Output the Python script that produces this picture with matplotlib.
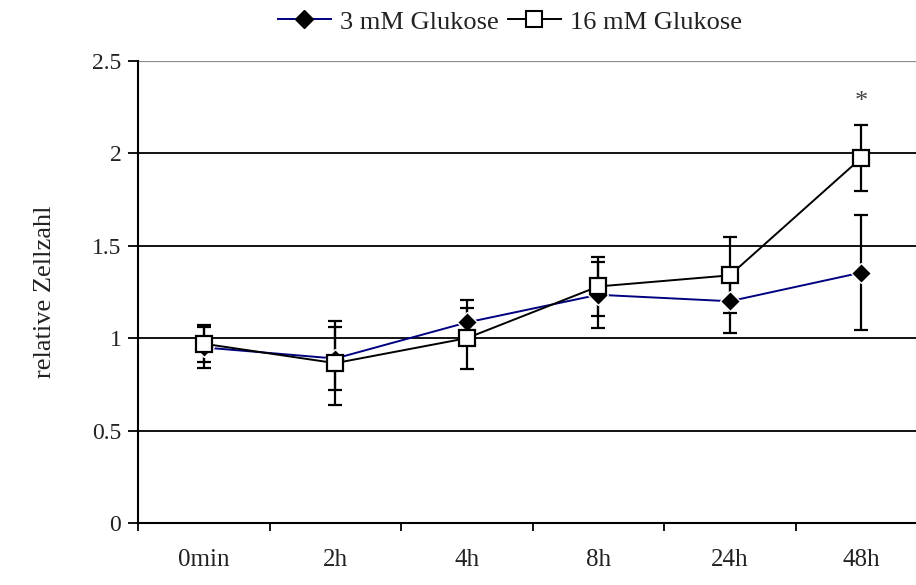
import matplotlib
matplotlib.use("Agg")
import matplotlib.pyplot as plt
from matplotlib.lines import Line2D

# Zeitpunkte und Messwerte (relative Zellzahl, Mittelwert und Fehler)
zeitpunkte = ["0min", "2h", "4h", "8h", "24h", "48h"]
glc3_mean = [0.95, 0.89, 1.085, 1.235, 1.20, 1.355]
glc3_err = [0.11, 0.17, 0.12, 0.18, 0.17, 0.31]
glc16_mean = [0.97, 0.865, 1.00, 1.28, 1.34, 1.975]
glc16_err = [0.10, 0.228, 0.165, 0.16, 0.205, 0.18]
y_ticks = [0, 0.5, 1, 1.5, 2, 2.5]
y_ticklabels = ["0", "0.5", "1", "1.5", "2", "2.5"]

plt.rcParams["font.family"] = ["Liberation Serif", "DejaVu Serif"]
TEXT_COLOR = "#222222"

fig = plt.figure(figsize=(9.16, 5.85), dpi=100)
ax = fig.add_axes([138 / 916, 62 / 585, 789 / 916, 462 / 585])

x = list(range(len(zeitpunkte)))

# Horizontale Gitterlinien
for yv in y_ticks[1:-1]:
    ax.axhline(yv, color="black", lw=1.3, zorder=0)
ax.axhline(2.5, color="#8c8c8c", lw=1.6, zorder=0)

# Fehlerbalken
ax.errorbar(x, glc3_mean, yerr=glc3_err, fmt="none", ecolor="black",
            elinewidth=1.6, capsize=5, capthick=1.6, zorder=2)
ax.errorbar(x, glc16_mean, yerr=glc16_err, fmt="none", ecolor="black",
            elinewidth=1.6, capsize=5, capthick=1.6, zorder=2)

# Verläufe
ax.plot(x, glc3_mean, color="#000080", lw=1.4, marker="D", ms=10,
        mfc="black", mec="white", mew=1.0, zorder=3)
ax.plot(x, glc16_mean, color="black", lw=1.4, marker="s", ms=11,
        mfc="white", mec="black", mew=1.6, zorder=4)

# Signifikanz
ax.text(5, 2.28, "*", ha="center", va="center", fontsize=19,
        color="#444444")

ax.set_xlim(-0.5, 5.5)
ax.set_ylim(0, 2.5)
ax.set_yticks(y_ticks)
ax.set_yticklabels(y_ticklabels)
ax.set_xticks([i - 0.5 for i in range(len(zeitpunkte) + 1)])
ax.set_xticklabels([])
ax.set_xticks(x, minor=True)
ax.set_xticklabels(zeitpunkte, minor=True)
ax.tick_params(axis="x", which="major", direction="out", length=6, width=1.3)
ax.tick_params(axis="x", which="minor", length=0, pad=19, labelsize=18,
               labelcolor=TEXT_COLOR)
ax.tick_params(axis="y", direction="out", length=7, width=1.3, pad=5,
               labelsize=17, labelcolor=TEXT_COLOR)

for side in ("top", "right"):
    ax.spines[side].set_visible(False)
for side in ("left", "bottom"):
    ax.spines[side].set_linewidth(1.5)

ax.set_ylabel("relative Zellzahl", fontsize=19, labelpad=26,
              color=TEXT_COLOR)

handles = [
    Line2D([], [], color="#000080", lw=1.4, marker="D", ms=9, mfc="black",
           mec="black"),
    Line2D([], [], color="black", lw=1.4, marker="s", ms=11, mfc="white",
           mec="black", mew=1.5),
]
leg = fig.legend(handles, ["3 mM Glukose", "16 mM Glukose"], loc="center",
                 bbox_to_anchor=(510 / 916, 1 - 22 / 585), ncol=2,
                 frameon=False, fontsize=19, handlelength=2.0,
                 handletextpad=0.35, columnspacing=0.35)
for t in leg.get_texts():
    t.set_color(TEXT_COLOR)

fig.savefig("out.png", dpi=100)
